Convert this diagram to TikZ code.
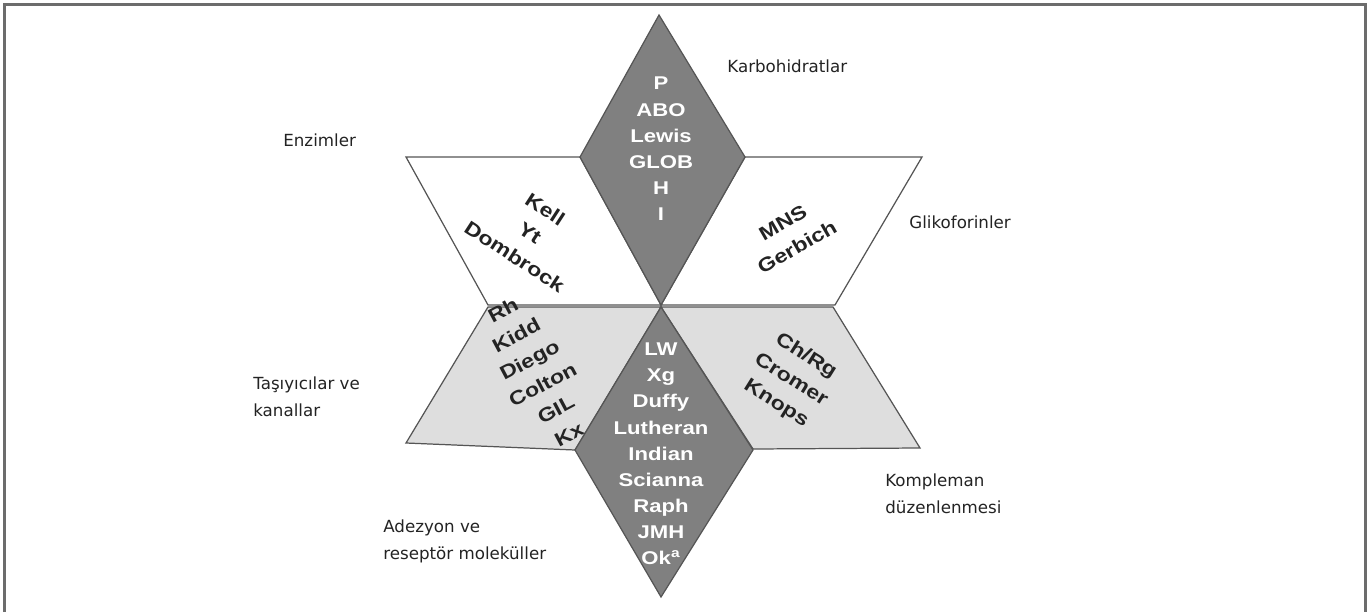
\documentclass[tikz,border=0pt]{standalone}
\usepackage{fontspec}
\setmainfont{Liberation Sans}
\newfontfamily\grupo[FakeStretch=1.2]{Liberation Sans}
\newfontfamily\etiq{DejaVu Sans}
\definecolor{oscuro}{RGB}{128,128,128}
\definecolor{claro}{RGB}{222,222,222}
\definecolor{borde}{RGB}{85,85,85}
\definecolor{tinta}{RGB}{35,35,35}

\begin{document}
\begin{tikzpicture}[x=0.02cm,y=-0.02cm,
    rombo/.style={fill=oscuro,draw=borde,line width=0.7pt},
    blanco/.style={fill=white,draw=borde,line width=0.7pt},
    gris/.style={fill=claro,draw=borde,line width=0.7pt},
    dentro/.style={align=center,inner sep=0pt,text=white,font=\grupo\bfseries\fontsize{10.5}{14.9}\selectfont},
    fuera/.style={align=center,inner sep=0pt,text=tinta,font=\grupo\bfseries\fontsize{11}{16}\selectfont},
    grupo/.style={align=left,inner sep=0pt,anchor=west,text=tinta,font=\etiq\fontsize{9.5}{15.3}\selectfont}]
        \useasboundingbox (0,0) rectangle (1371,612);

        % Marco
        \draw[line width=1.2pt,draw=gray!85!black] (4.5,612) -- (4.5,4.5) -- (1365.5,4.5) -- (1365.5,612);

        % Paralelogramos
        \draw[blanco] (406,157) -- (580,157) -- (661,305) -- (488,305) -- cycle;
        \draw[blanco] (745,157) -- (922,157) -- (835,305) -- (661,305) -- cycle;
        \draw[gris] (488,307) -- (661,307) -- (575,450) -- (406,443) -- cycle;
        \draw[gris] (661,307) -- (833,307) -- (920,448) -- (753,449) -- cycle;

        % Rombos
        \draw[rombo] (659,15) -- (745,157) -- (661,305) -- (580,157) -- cycle;
        \draw[rombo] (661,307) -- (753,450) -- (661,597) -- (575,450) -- cycle;

        % Grupos sanguineos
        \node[dentro] (carbo) at (661,149) {P\\ABO\\Lewis\\GLOB\\H\\I};
        \node[dentro] (adez) at (661,454) {LW\\Xg\\Duffy\\Lutheran\\Indian\\Scianna\\Raph\\JMH\\Ok\textsuperscript{a}};
        \node[fuera,rotate=-33] (enz) at (530,233) {Kell\\Yt\\Dombrock};
        \node[fuera,rotate=30] (glik) at (790,235) {MNS\\Gerbich};
        \node[fuera,rotate=28] (tasi) at (536,372) {Rh\\Kidd\\Diego\\Colton\\GIL\\Kx};
        \node[fuera,rotate=-32] (komp) at (791,380) {Ch/Rg\\Cromer\\Knops};

        % Etiquetas
        \node[grupo] (lcarbo) at (727,66) {Karbohidratlar};
        \node[grupo] (lenz) at (283,140) {Enzimler};
        \node[grupo] (lglik) at (909,222) {Glikoforinler};
        \node[grupo] (ltasi) at (253,396.5) {Taşıyıcılar ve\\kanallar};
        \node[grupo] (ladez) at (383,541) {Adezyon ve\\reseptör moleküller};
        \node[grupo] (lkomp) at (885,493.5) {Kompleman\\düzenlenmesi};
    \end{tikzpicture}
\end{document}
